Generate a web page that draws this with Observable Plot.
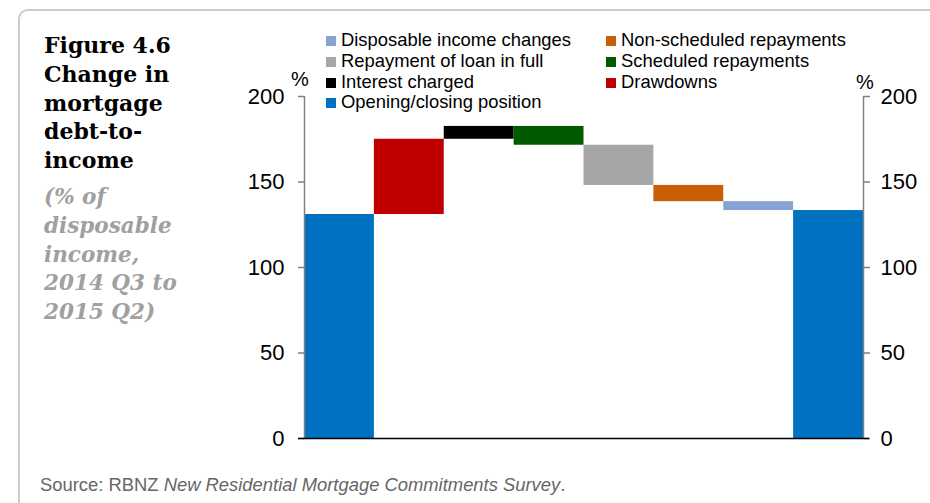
<!DOCTYPE html>
<html>
<head>
<meta charset="utf-8">
<script src="https://cdn.jsdelivr.net/npm/d3@7"></script>
<script src="https://cdn.jsdelivr.net/npm/@observablehq/plot@0.6"></script>
<style>
  html, body { margin: 0; padding: 0; background: #fff; }
  #page { position: relative; width: 930px; height: 503px; overflow: hidden; font-family: "Liberation Sans", Arial, sans-serif; }
  #frame { position: absolute; left: 18px; top: 9px; width: 1000px; height: 600px; border: 2px solid #cccccc; border-radius: 10px; box-sizing: border-box; }
  #title { position: absolute; left: 44px; top: 31px; font-family: "DejaVu Serif", serif; font-weight: bold; font-size: 22px; line-height: 28.8px; color: #000; }
  #subtitle { color: #a0a0a0; font-style: italic; margin-top: 8px; font-size: 21.5px; }
  #chart { position: absolute; left: 230px; top: 0px; }
  #legend { position: absolute; left: 326px; top: 30px; font-size: 18.4px; line-height: 20.8px; color: #000; }
  .lg { position: absolute; white-space: nowrap; }
  .sw { display: inline-block; width: 10px; height: 10px; margin-right: 5px; vertical-align: 0px; }
  .pct { position: absolute; font-size: 20px; color: #000; }
  #source { position: absolute; left: 40px; top: 474px; font-size: 18.4px; color: #666; }
</style>
</head>
<body>
<div id="page">
  <div id="frame"></div>
  <div id="title">Figure 4.6<br>Change in<br>mortgage<br>debt-to-<br>income
    <div id="subtitle">(% of<br>disposable<br>income,<br>2014 Q3 to<br>2015 Q2)</div>
  </div>
  <div id="chart"></div>
  <div id="legend"></div>
  <div class="pct" style="left:291px; top:68px;">%</div>
  <div class="pct" style="left:856px; top:71px;">%</div>
  <div id="source">Source: RBNZ <i>New Residential Mortgage Commitments Survey</i>.</div>
</div>
<script>
// Waterfall components (% of disposable income)
const categories = ["Opening position", "Drawdowns", "Interest charged", "Scheduled repayments", "Repayment of loan in full", "Non-scheduled repayments", "Disposable income changes", "Closing position"];
const changes = [131, 44, 7.5, -11, -23.5, -9.5, -5.2, null]; // null = closing total
const seriesKeys = ["Opening/closing position", "Drawdowns", "Interest charged", "Scheduled repayments", "Repayment of loan in full", "Non-scheduled repayments", "Disposable income changes", "Opening/closing position"];
const yTicks = [0, 50, 100, 150, 200];

const legendOrder = ["Disposable income changes", "Non-scheduled repayments", "Repayment of loan in full", "Scheduled repayments", "Interest charged", "Drawdowns", "Opening/closing position"];
const colorMap = {
  "Opening/closing position": "#0070c0",
  "Drawdowns": "#c00000",
  "Interest charged": "#000000",
  "Scheduled repayments": "#005a00",
  "Repayment of loan in full": "#a6a6a6",
  "Non-scheduled repayments": "#c85f07",
  "Disposable income changes": "#87a3d4"
};

// build waterfall table
let running = 0;
const rows = categories.map((c, i) => {
  let y1, y2;
  if (i === 0) { y1 = 0; y2 = changes[0]; running = changes[0]; }
  else if (changes[i] === null) { y1 = 0; y2 = running; }
  else { y1 = running; y2 = running + changes[i]; running = y2; }
  return { cat: c, idx: i, y1, y2, key: seriesKeys[i] };
});

const axisColor = "#808080";
const chart = Plot.plot({
  width: 700,
  height: 470,
  marginLeft: 74,
  marginRight: 67,
  marginTop: 96,
  marginBottom: 32,
  style: { fontFamily: "Liberation Sans, Arial, sans-serif", fontSize: "22px", color: "#000", background: "transparent" },
  x: { domain: [0, categories.length], axis: null },
  y: { domain: [0, 200], ticks: yTicks, axis: null },
  marks: [
    Plot.rectY(rows, { x1: "idx", x2: d => d.idx + 1, y1: "y1", y2: "y2", fill: d => colorMap[d.key], inset: 0 }),
    Plot.axisY({ anchor: "left", ticks: yTicks, tickSize: 6, tickPadding: 14, stroke: axisColor, strokeWidth: 1.5, fill: "#000", fontSize: 22, label: null }),
    Plot.axisY({ anchor: "right", ticks: yTicks, tickSize: 6, tickPadding: 11, stroke: axisColor, strokeWidth: 1.5, fill: "#000", fontSize: 22, label: null }),
    Plot.ruleX([0, categories.length], { y1: 0, y2: 200, stroke: axisColor, strokeWidth: 1.5 }),
    Plot.ruleY([0], { stroke: "#000", strokeWidth: 1.5, insetLeft: -6, insetRight: -6 })
  ]
});
document.getElementById("chart").appendChild(chart);

// legend: 2 columns
const legend = document.getElementById("legend");
legendOrder.forEach((k, i) => {
  const col = i % 2, row = Math.floor(i / 2);
  const el = document.createElement("div");
  el.className = "lg";
  el.style.left = (col * 280) + "px";
  el.style.top = (row * 20.8) + "px";
  el.innerHTML = `<span class="sw" style="background:${colorMap[k]}"></span>${k}`;
  legend.appendChild(el);
});
</script>
</body>
</html>
